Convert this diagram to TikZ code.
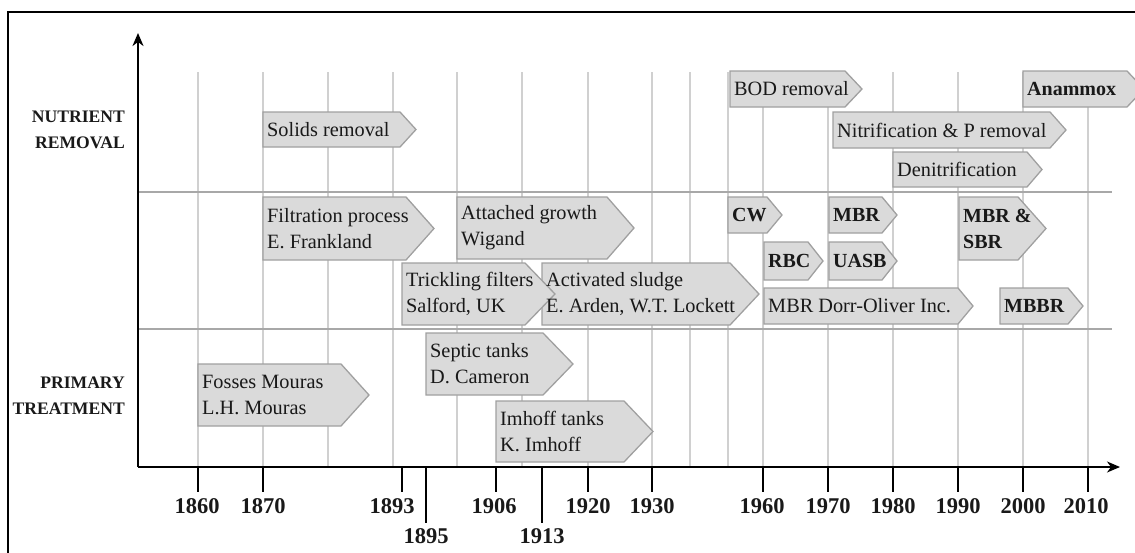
\documentclass[tikz,border=0pt]{standalone}
\usepackage{fontspec}
\setmainfont{Liberation Serif}
\usetikzlibrary{arrows.meta}
\definecolor{boxfill}{HTML}{DADADA}
\definecolor{boxline}{HTML}{A0A0A0}
\definecolor{gridc}{HTML}{D0D0D0}
\definecolor{sepc}{HTML}{A8A8A8}
\pgfdeclarelayer{gridl}
\pgfdeclarelayer{boxl}
\pgfsetlayers{gridl,boxl,main}
\newcommand\bxf{\fontsize{20.3}{26}\selectfont}
\newcommand\bxb{\bfseries\fontsize{20}{26}\selectfont}
\newcommand\abox[8]{%
  \begin{pgfonlayer}{boxl}
  \draw[boxshape] (#2,#3) -- (#5,#3) -- (#6,{(#3+#4)/2}) -- (#5,#4) -- (#2,#4) -- cycle;
  \end{pgfonlayer}
  \node[boxtext,font=#7,anchor=west] (#1) at ({#2+4},{(#3+#4)/2}) {#8};
}
\tikzset{
  boxshape/.style={fill=boxfill, draw=boxline, line width=1.3pt, line join=miter},
  boxtext/.style={inner sep=0pt, align=left, text=black!90},
  gridline/.style={draw=gridc, line width=1.8pt},
  sepline/.style={draw=sepc, line width=2.6pt},
  axisline/.style={draw=black, line width=1.6pt},
  tickline/.style={draw=black, line width=1.6pt},
  yearlab/.style={font=\bfseries\fontsize{22.5}{24}\selectfont, inner sep=0pt, text=black!90},
  rowlab/.style={font=\bfseries\fontsize{17.6}{26}\selectfont, inner sep=0pt, align=right, anchor=east, text=black!90},
}
\begin{document}
\begin{tikzpicture}[x=1pt,y=-1pt]
\useasboundingbox (0,0) rectangle (1135,552);
\clip (0,0) rectangle (1135,552);
% frame
\draw[line width=1.6pt] (8,560) -- (8,12) -- (1140,12);
% grid
\begin{pgfonlayer}{gridl}
\foreach \x in {198,263,328,393,457,522,588,652,690,728,763,828,893,958,1023,1088}
  \draw[gridline] (\x,72) -- (\x,467);
\draw[sepline] (138,192) -- (1112,192);
\draw[sepline] (138,329) -- (1112,329);
\end{pgfonlayer}
% row labels
\node[rowlab] (nutr) at (125,130) {NUTRIENT\\REMOVAL};
\node[rowlab] (prim) at (125,396) {PRIMARY\\TREATMENT};
% boxes
\abox{solids}{263}{112}{147}{400}{416}{\bxf}{Solids removal}
\abox{bod}{730}{71}{107}{845}{862}{\bxf}{BOD removal}
\abox{anammox}{1023}{71}{107}{1127}{1144}{\bxb}{Anammox}
\abox{nitri}{833}{112}{148}{1050}{1066}{\bxf}{Nitrification \& P removal}
\abox{denit}{893}{152}{187}{1027}{1042}{\bxf}{Denitrification}
\abox{filt}{263}{197}{260}{406}{434}{\bxf}{Filtration process\\E. Frankland}
\abox{attached}{457}{197}{259}{607}{634}{\bxf}{Attached growth\\Wigand}
\abox{cw}{728}{197}{233}{767}{782}{\bxb}{CW}
\abox{mbr}{829}{197}{233}{882}{897}{\bxb}{MBR}
\abox{mbrsbr}{959}{197}{260}{1018}{1046}{\bxb}{MBR \&\\SBR}
\abox{rbc}{764}{242}{280}{808}{823}{\bxb}{RBC}
\abox{uasb}{829}{242}{280}{882}{897}{\bxb}{UASB}
\abox{actsl}{542}{263}{325}{730}{759}{\bxf}{Activated sludge\\E. Arden, W.T. Lockett}
\abox{trick}{402}{263}{325}{525}{555}{\bxf}{Trickling filters\\Salford, UK}
\abox{dorr}{764}{288}{324}{958}{973}{\bxf}{MBR Dorr-Oliver Inc.}
\abox{mbbr}{1000}{288}{324}{1068}{1083}{\bxb}{MBBR}
\abox{fosses}{198}{364}{426}{341}{369}{\bxf}{Fosses Mouras\\L.H. Mouras}
\abox{septic}{426}{333}{395}{543}{573}{\bxf}{Septic tanks\\D. Cameron}
\abox{imhoff}{496}{401}{462}{624}{653}{\bxf}{Imhoff tanks\\K. Imhoff}
% axes
\coordinate (origin) at (138,467);
\coordinate (ytop) at (138,33);
\coordinate (xend) at (1120,467);
\draw[axisline, -{Stealth[length=13pt,width=11pt,inset=4pt]}] (origin) -- (ytop);
\draw[axisline, -{Stealth[length=13pt,width=11pt,inset=4pt]}] (origin) -- (xend);
% ticks and years
\foreach \x/\lx/\yr in {198/197/1860,263/263/1870,402/392/1893,496/494/1906,588/588/1920,652/652/1930,763/762/1960,828/828/1970,893/893/1980,958/958/1990,1023/1023/2000,1088/1086/2010}{
  \draw[tickline] (\x,467) -- (\x,492);
  \node[yearlab] (y\yr) at (\lx,506) {\yr};
}
\foreach \x/\yr in {426/1895,542/1913}{
  \draw[tickline] (\x,467) -- (\x,523);
  \node[yearlab] (y\yr) at (\x,536) {\yr};
}
\end{tikzpicture}
\end{document}
